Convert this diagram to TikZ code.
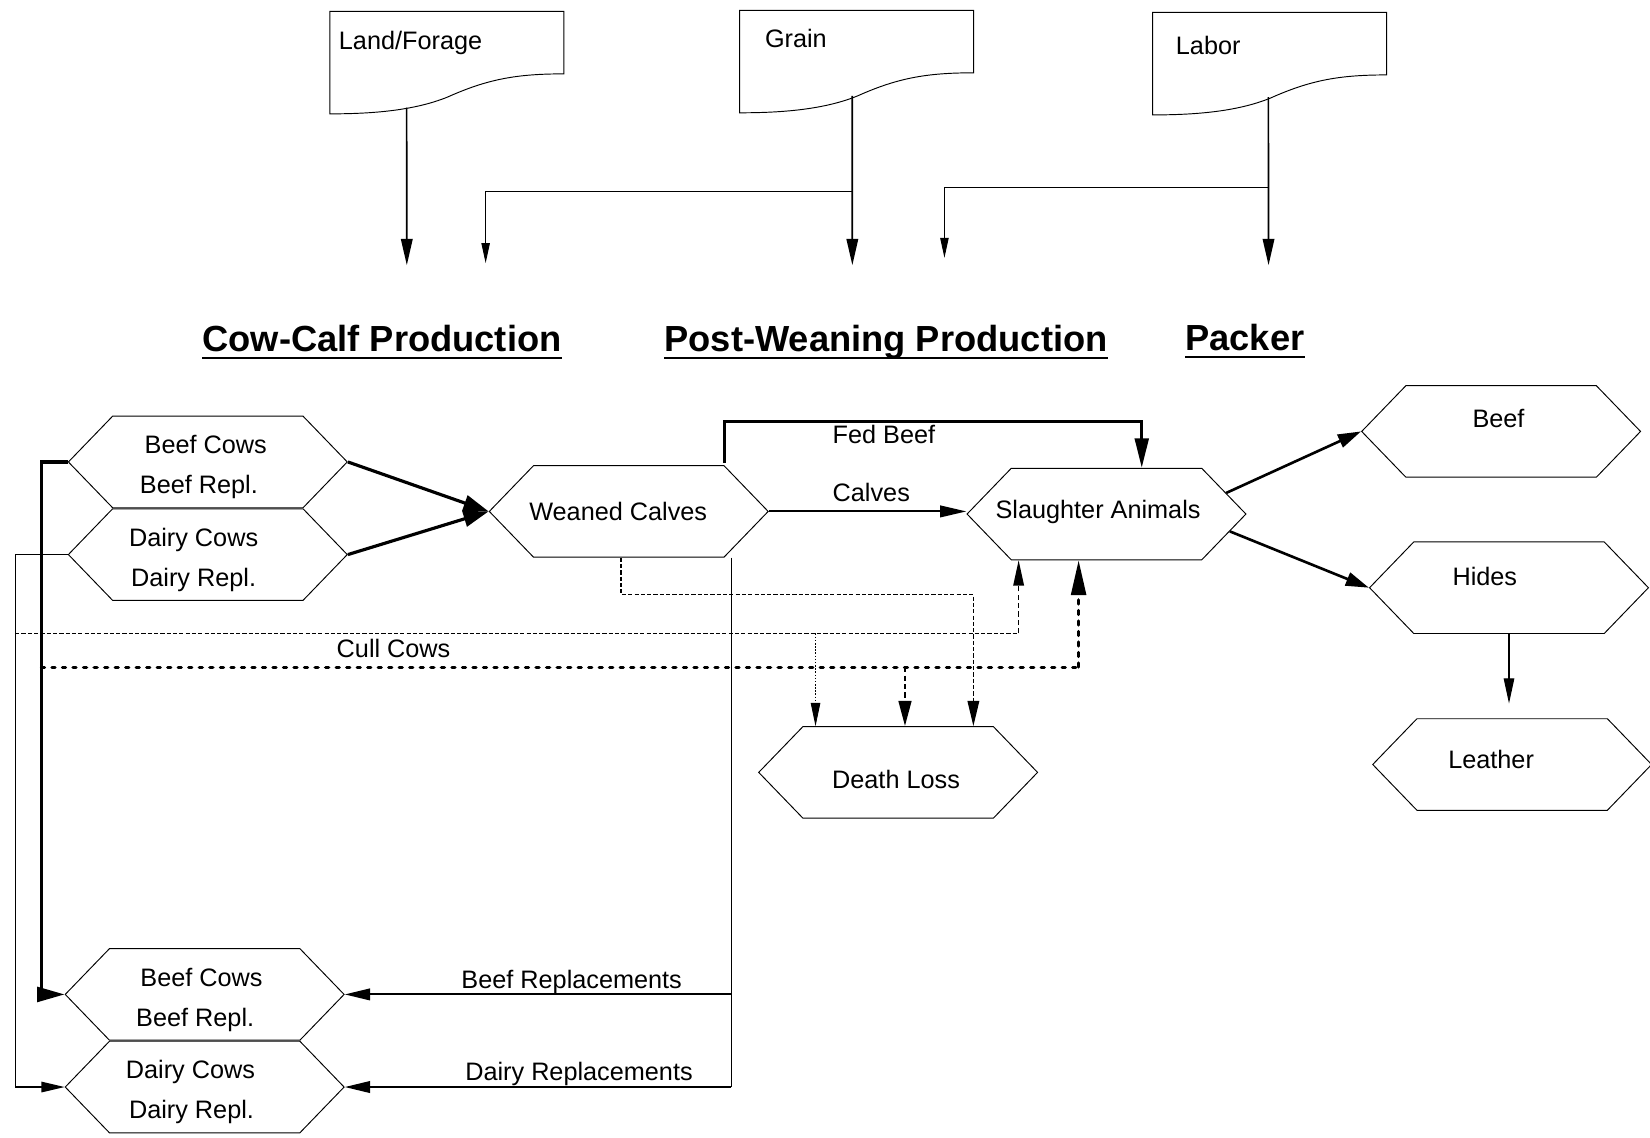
\documentclass[tikz,border=0pt]{standalone}
\usepackage{fontspec}
\setmainfont{Liberation Sans}
\usetikzlibrary{arrows.meta,shapes.symbols,calc}

\newcommand{\boxfont}{\fontsize{24}{38}\selectfont}
\newcommand{\headfont}{\fontsize{34.5}{40}\selectfont\bfseries}
% strut that pushes two-line labels down a little
\newcommand{\toprow}{\rule{0pt}{27pt}}

\begin{document}
\begin{tikzpicture}[x=1pt,y=-1pt,
	hexbox/.style={draw,line width=0.9pt,signal,signal to=west and east,
		signal pointer angle=92,minimum width=265pt,minimum height=87pt,
		inner sep=0pt,align=center,font=\boxfont},
	docbox/.style={minimum width=222pt,minimum height=97pt,inner sep=0pt},
	docline/.style={line width=0.9pt},
	doctext/.style={anchor=west,font=\boxfont,inner sep=0pt},
	heading/.style={font=\headfont,inner sep=0pt,anchor=base},
	lbl/.style={font=\boxfont,inner sep=0pt},
	inthick/.style={line width=1.6pt,-{Triangle[length=25pt,width=11pt]}},
	inthin/.style={line width=0.9pt,-{Triangle[length=19pt,width=8pt]}},
	feedline/.style={line width=3pt,-{Triangle[length=24pt,width=15pt]}},
	calfline/.style={line width=2pt,-{Triangle[length=25pt,width=11pt]}},
	fedline/.style={line width=3pt,-{Triangle[length=28pt,width=13pt]}},
	prodline/.style={line width=2.5pt,-{Triangle[length=22pt,width=13pt]}},
	hideline/.style={line width=1.2pt,-{Triangle[length=24pt,width=10pt]}},
	vline/.style={line width=1.3pt},
	repline/.style={line width=1.8pt,-{Triangle[length=24pt,width=11pt]}},
	loopthick/.style={line width=3pt,-{Triangle[length=26pt,width=14pt]}},
	loopthin/.style={line width=1.1pt,-{Triangle[length=22pt,width=10pt]}},
	cullline/.style={line width=1.4pt,dash pattern=on 4pt off 2pt},
	cullup/.style={line width=1.5pt,dash pattern=on 5pt off 3pt,-{Triangle[length=24pt,width=10pt]}},
	cullthick/.style={line width=3pt,line cap=round,dash pattern=on 3pt off 7pt},
	cullthickup/.style={line width=3pt,line cap=round,dash pattern=on 4pt off 6pt,-{Triangle[length=33pt,width=14pt]}},
	lossdot/.style={line width=0.8pt,dash pattern=on 1.5pt off 1.5pt,-{Triangle[length=22pt,width=9pt]}},
	lossdash/.style={line width=2.5pt,dash pattern=on 5pt off 3pt,-{Triangle[length=24pt,width=12pt]}},
	wcdash/.style={line width=1.5pt,dash pattern=on 4pt off 2pt,-{Triangle[length=24pt,width=11pt]}}
]
	\useasboundingbox (0,0) rectangle (1568,1081);

	% input sheets
	\node[docbox] (land) at (424.6,59.5) {};
	\node[docbox] (grain) at (814,58.5) {};
	\node[docbox] (labor) at (1206.5,60.5) {};
	\foreach \b in {land,grain,labor}
		\draw[docline] (\b.north west) -- (\b.north east) -- ($(\b.south east)+(0,-38)$)
			.. controls ($(\b.south east)+(-45,-38)$) and ($(\b.south west)+(150,-33)$) .. ($(\b.south west)+(112,-16)$)
			.. controls ($(\b.south west)+(80,-3)$) and ($(\b.south west)+(40,0)$) .. (\b.south west) -- cycle;
	\node[doctext] (landtxt) at ($(land.north west)+(8.5,30)$) {Land/Forage};
	\node[doctext] (graintxt) at ($(grain.north west)+(24,26.5)$) {Grain};
	\node[doctext] (labortxt) at ($(labor.north west)+(22,31)$) {Labor};

	% sector headings
	\node[heading] (hcc) at (363,334) {Cow-Calf Production};
	\node[heading] (hpw) at (842,334) {Post-Weaning Production};
	\node[heading] (hpk) at (1183,333) {Packer};
	\foreach \h in {hcc,hpw,hpk}
		\draw[line width=1.6pt] ([yshift=-6pt]\h.base west) -- ([yshift=-6pt]\h.base east);

	% herds and products
	\node[hexbox] (bcA) at (197.5,439) {\toprow\hspace*{-4pt}Beef Cows\\\hspace*{-17pt}Beef Repl.};
	\node[hexbox] (dcA) at (197.5,527) {\toprow\hspace*{-27pt}Dairy Cows\\\hspace*{-27pt}Dairy Repl.};
	\node[hexbox] (wc) at (597.5,486) {\hspace*{-20pt}Weaned Calves};
	\node[hexbox,inner xsep=-15pt,text depth=9pt] (sa) at (1051.5,488.5) {\hspace*{-16pt}Slaughter Animals};
	\node[hexbox,text depth=24pt] (beef) at (1426.5,410) {\hspace*{-5pt}Beef};
	\node[hexbox,text depth=22pt] (hides) at (1434,558.5) {\hspace*{-46pt}Hides};
	\node[hexbox,text depth=10pt] (leather) at (1437,726.5) {\hspace*{-40pt}Leather};
	\node[hexbox,text height=31pt] (dl) at (853.5,734) {\hspace*{-4pt}Death Loss};
	\node[hexbox] (bcB) at (194.5,945) {\toprow\hspace*{-6pt}Beef Cows\\\hspace*{-18pt}Beef Repl.};
	\node[hexbox] (dcB) at (194.5,1033) {\toprow\hspace*{-27pt}Dairy Cows\\\hspace*{-25pt}Dairy Repl.};

	% end points of the input arrows
	\coordinate (landsrc) at ($(land.south west)+(73,-6)$);
	\coordinate (grainsrc) at ($(grain.south west)+(107,-16)$);
	\coordinate (laborsrc) at ($(labor.south west)+(110,-17)$);
	\coordinate (landtip) at (386.6,252);
	\coordinate (graintip) at (810,252);
	\coordinate (grainside) at (461.5,250);
	\coordinate (labortip) at (1205.5,252);
	\coordinate (laborside) at (897.5,245);

	% taps on the node borders
	\coordinate (cullA) at ($(dcA.west)+(-50,75)$);
	\coordinate (cullB) at ($(bcA.west)+(-25,195)$);
	\coordinate (saA) at ([xshift=-83.5pt]sa.south);
	\coordinate (saB) at ([xshift=-26.5pt]sa.south);
	\coordinate (saC) at ([xshift=33.5pt]sa.north);
	\coordinate (dlA) at ([xshift=-78.5pt]dl.north);
	\coordinate (dlB) at ([xshift=6.5pt]dl.north);
	\coordinate (dlC) at ([xshift=71.5pt]dl.north);
	\coordinate (wcA) at ([xshift=-7.5pt]wc.south);
	\coordinate (wcB) at ([xshift=97.5pt]wc.south);
	\coordinate (wcC) at ([xshift=91pt,yshift=2pt]wc.north);

	% inputs
	\draw[inthick] (landsrc) -- (landtip);
	\draw[inthick] (grainsrc) -- (graintip);
	\draw[inthin] (grainsrc) ++(0,90.5) -| (grainside);
	\draw[inthick] (laborsrc) -- (labortip);
	\draw[inthin] (laborsrc) ++(0,85.5) -| (laborside);

	% calves and fed cattle
	\draw[feedline] (bcA.east) -- (wc.west);
	\draw[feedline] (dcA.east) -- (wc.west);
	\draw[calfline] (wc.east) -- (wc.east -| sa.west);
	\node[lbl] (calveslbl) at (828,468) {Calves};
	\draw[fedline] (wcC) -- ++(0,-39.5) -| (saC);
	\node[lbl] (fedlbl) at (840,413) {Fed Beef};

	% packer output
	\draw[prodline] (sa.10) -- (beef.west);
	\draw[prodline] (sa.-8) -- (hides.west);
	\draw[hideline,shorten >=14pt] (hides.south) -- (hides.south |- leather.north);

	% replacements
	\draw[vline] (wcB) -- (wcB |- dcB.east);
	\draw[repline] (wcB |- bcB.east) -- (bcB.east) node[lbl,above,pos=0.413] {Beef Replacements};
	\draw[repline] (wcB |- dcB.east) -- (dcB.east) node[lbl,above,pos=0.394] {Dairy Replacements};

	% herd carry-over
	\draw[loopthick] (bcA.west) -- ++(-25,0) |- (bcB.west);
	\draw[loopthin] (dcA.west) -- ++(-50,0) |- (dcB.west);

	% culls and death loss
	\draw[cullline] (cullA) -- (cullA -| saA);
	\draw[cullup] (cullA -| saA) -- (saA);
	\node[lbl] (culllbl) at (374,616) {Cull Cows};
	\draw[cullthick] (cullB) -- (cullB -| saB);
	\draw[cullthickup] (cullB -| saB) -- (saB);
	\draw[lossdot] (dlA |- cullA) -- (dlA);
	\draw[lossdash] (dlB |- cullB) -- (dlB);
	\draw[wcdash] (wcA) -- ++(0,35) -| (dlC);
\end{tikzpicture}
\end{document}
